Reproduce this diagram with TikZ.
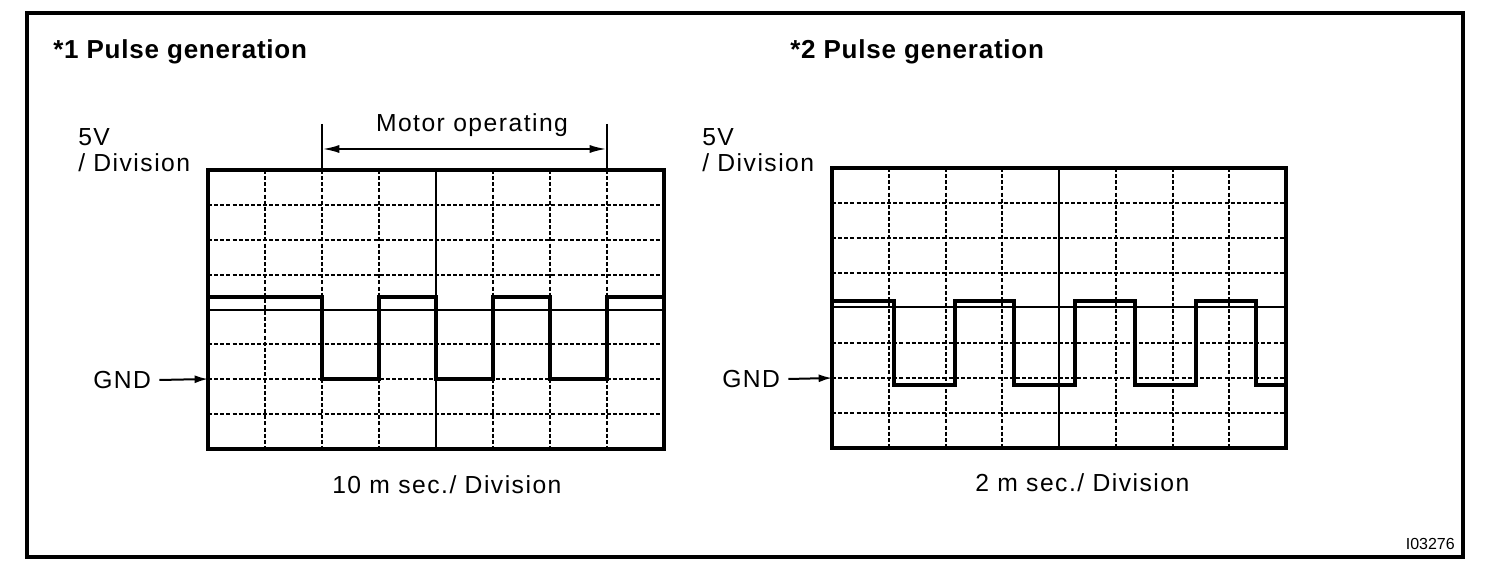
\documentclass[tikz,border=0pt]{standalone}
\usepackage{fontspec}
\setmainfont{Liberation Sans}
\usetikzlibrary{arrows.meta}
\tikzset{
  txt/.style={inner sep=0pt, font=\fontsize{18.5}{19.5}\selectfont\addfontfeature{LetterSpace=6}},
  ttl/.style={inner sep=0pt, font=\fontsize{19.5}{22}\selectfont\bfseries\addfontfeature{LetterSpace=3}},
  grid line/.style={line width=1.4pt, dash pattern=on 3pt off 1.6pt},
  scope box/.style={line width=2.4pt},
  pulse/.style={line width=2.8pt, line join=miter},
  gnd arrow/.style={line width=1.5pt, -{Latex[length=10pt,width=6pt]}},
}
\begin{document}
\begin{tikzpicture}[x=0.75pt,y=0.75pt,yscale=-1,xscale=1]
\useasboundingbox (0,0) rectangle (1504,584);

%Outer frame
\draw [line width=2.6pt] (27,13) rectangle (1463,557);

%Left scope: grid
\foreach \gx in {265,322,379,493,550,607}
  \draw [grid line] (\gx,170) -- (\gx,449);
\foreach \gy in {205,240,275,344,379,414}
  \draw [grid line] (208,\gy) -- (664,\gy);
\draw [line width=2pt] (436,170) -- (436,449) ;
\draw [line width=2pt] (208,310) -- (664,310) ;
\draw [scope box] (208,170) rectangle (664,449);
%Left scope: pulse
\draw [pulse] (208,297) -- (322,297) -- (322,379) -- (379,379) -- (379,297) -- (436,297) -- (436,379) -- (493,379) -- (493,297) -- (550,297) -- (550,379) -- (607,379) -- (607,297) -- (664,297) ;

%Motor operating span
\draw [line width=1.3pt] (322,124) -- (322,170) ;
\draw [line width=1.3pt] (607,124) -- (607,170) ;
\coordinate (mot1) at (322,149);
\coordinate (mot2) at (607,149);
\draw [line width=1.8pt, {Latex[length=13pt,width=6pt]}-{Latex[length=13pt,width=6pt]}] (mot1) -- (mot2) ;

%Right scope: grid
\foreach \gx in {889,946,1002,1116,1173,1229}
  \draw [grid line] (\gx,168) -- (\gx,448);
\foreach \gy in {203,238,273,343,378,413}
  \draw [grid line] (832,\gy) -- (1286,\gy);
\draw [line width=2pt] (1059,168) -- (1059,448) ;
\draw [line width=2pt] (832,307) -- (1286,307) ;
\draw [scope box] (832,168) rectangle (1286,448);
%Right scope: pulse
\draw [pulse] (832,301) -- (894,301) -- (894,385) -- (955,385) -- (955,301) -- (1014,301) -- (1014,385) -- (1075,385) -- (1075,301) -- (1135,301) -- (1135,385) -- (1196,385) -- (1196,301) -- (1256,301) -- (1256,385) -- (1286,385) ;

% Text Node
\node [ttl, anchor=west] (title1) at (53,52) {*1 Pulse generation};
% Text Node
\node [ttl, anchor=west] (title2) at (790,52) {*2 Pulse generation};
% Text Node
\node [txt, anchor=north west, align=left] (volt1) at (78,128) {5V\\/ Division};
% Text Node
\node [txt, anchor=north west, align=left] (volt2) at (702,128) {5V\\/ Division};
% Text Node
\node [txt] (motor) at (472,125) {Motor operating};
% Text Node
\node [txt, anchor=west] (gnd1) at (93,380) {GND};
% Text Node
\node [txt, anchor=west] (gnd2) at (722,379) {GND};
% Text Node
\node [txt, anchor=west] (time1) at (332,485) {10 m sec./ Division};
% Text Node
\node [txt, anchor=west] (time2) at (975,483) {2 m sec./ Division};
% Text Node
\node [inner sep=0pt, anchor=east, font=\fontsize{12}{13}\selectfont] (code) at (1455,544) {I03276};

%GND markers
\coordinate (gndtip1) at (208,379);
\coordinate (gndtip2) at (832,378);
\draw [gnd arrow] ([xshift=6pt]gnd1.east) -- (gndtip1) ;
\draw [gnd arrow] ([xshift=6pt]gnd2.east) -- (gndtip2) ;

\end{tikzpicture}
\end{document}
